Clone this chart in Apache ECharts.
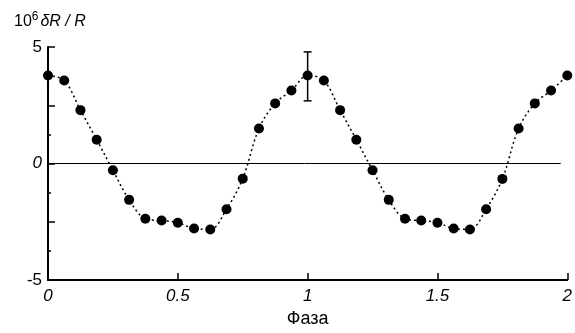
<!DOCTYPE html>
<html>
<head>
<meta charset="utf-8">
<script src="https://cdn.jsdelivr.net/npm/echarts@6/dist/echarts.min.js"></script>
<style>
  html, body { margin: 0; padding: 0; background: #fff; }
  #main { width: 575px; height: 333px; }
</style>
</head>
<body>
<div id="main"></div>
<script>
// phase points, step 1/16
const phase = [
    0, 0.0625, 0.125, 0.1875, 0.25, 0.3125, 0.375, 0.4375, 0.5, 0.5625, 0.625, 0.6875, 0.75, 0.8125, 0.875, 0.9375,
    1, 1.0625, 1.125, 1.1875, 1.25, 1.3125, 1.375, 1.4375, 1.5, 1.5625, 1.625, 1.6875, 1.75, 1.8125, 1.875, 1.9375, 2
];
const dR = [
    3.78, 3.56, 2.29, 1.02, -0.29, -1.56, -2.37, -2.45, -2.54, -2.79, -2.83, -1.96, -0.65, 1.50, 2.58, 3.13,
    3.78, 3.56, 2.29, 1.02, -0.29, -1.56, -2.37, -2.45, -2.54, -2.79, -2.83, -1.96, -0.66, 1.50, 2.58, 3.13, 3.78
];
// one error bar: [phase, low, high]
const errBars = [[1, 2.69, 4.79]];
const xTicks = [0, 0.5, 1, 1.5, 2];
const yLabels = [-5, 0, 5];

const font = 'Liberation Sans, Arial, sans-serif';
const chart = echarts.init(document.getElementById('main'));

chart.setOption({
    animation: false,
    backgroundColor: '#fff',
    title: {
        left: 9,
        top: 6,
        text: '{n|10}{s|6}{i|δR / R}',
        textStyle: {
            fontWeight: 'normal',
            rich: {
                n: {fontFamily: font, fontSize: 16, fontWeight: 'normal', color: '#000', verticalAlign: 'bottom'},
                s: {fontFamily: font, fontSize: 12, fontWeight: 'normal', color: '#000', verticalAlign: 'top', padding: [0, 2, 7, 0]},
                i: {fontFamily: font, fontSize: 16, fontWeight: 'normal', fontStyle: 'italic', color: '#000', verticalAlign: 'bottom'}
            }
        }
    },
    grid: {left: 48, right: 3, top: 47, bottom: 53},
    xAxis: {
        type: 'value',
        min: 0, max: 2, interval: 0.5,
        name: 'Фаза',
        nameLocation: 'middle',
        nameGap: 30,
        nameTextStyle: {fontFamily: font, fontSize: 18, color: '#000'},
        axisLine: {onZero: false, lineStyle: {color: '#000', width: 2}},
        axisTick: {inside: true, length: 7, lineStyle: {color: '#000', width: 1.5}},
        splitLine: {show: false},
        axisLabel: {
            fontFamily: font, fontSize: 17, fontStyle: 'italic', color: '#000', margin: 8,
            formatter: v => xTicks.includes(v) ? String(v) : ''
        }
    },
    yAxis: {
        type: 'value',
        min: -5, max: 5, interval: 2.5,
        axisLine: {show: true, lineStyle: {color: '#000', width: 2}},
        axisTick: {inside: true, length: 7, lineStyle: {color: '#000', width: 1.5}},
        minorTick: {show: true, splitNumber: 2, length: 3, lineStyle: {color: '#000', width: 1.5}},
        splitLine: {show: false},
        axisLabel: {
            fontFamily: font, fontSize: 17, color: '#000', margin: 6,
            formatter: v => !yLabels.includes(v) ? '' : (v === 0 ? '{i|0}' : String(v)),
            rich: {
                i: {fontFamily: font, fontSize: 17, fontStyle: 'italic', color: '#000'}
            }
        }
    },
    series: [
        {
            type: 'line',
            data: phase.map((p, i) => [p, dR[i]]),
            smooth: 0.35,
            symbol: 'circle',
            symbolSize: 10,
            itemStyle: {color: '#000'},
            lineStyle: {color: '#000', width: 1.5, type: [2, 3]},
            markLine: {
                silent: true,
                symbol: 'none',
                label: {show: false},
                lineStyle: {color: '#000', width: 1, type: 'solid'},
                data: [[{coord: [0, 0]}, {coord: [1.975, 0]}]]
            },
            z: 3
        },
        {
            type: 'custom',
            data: errBars,
            renderItem(params, api) {
                const top = api.coord([api.value(0), api.value(2)]);
                const bot = api.coord([api.value(0), api.value(1)]);
                const cap = 4;
                const style = {stroke: '#000', lineWidth: 1.5};
                return {
                    type: 'group',
                    children: [
                        {type: 'line', shape: {x1: top[0], y1: top[1], x2: bot[0], y2: bot[1]}, style},
                        {type: 'line', shape: {x1: top[0] - cap, y1: top[1], x2: top[0] + cap, y2: top[1]}, style},
                        {type: 'line', shape: {x1: bot[0] - cap, y1: bot[1], x2: bot[0] + cap, y2: bot[1]}, style}
                    ]
                };
            },
            z: 4
        }
    ]
});
</script>
</body>
</html>
